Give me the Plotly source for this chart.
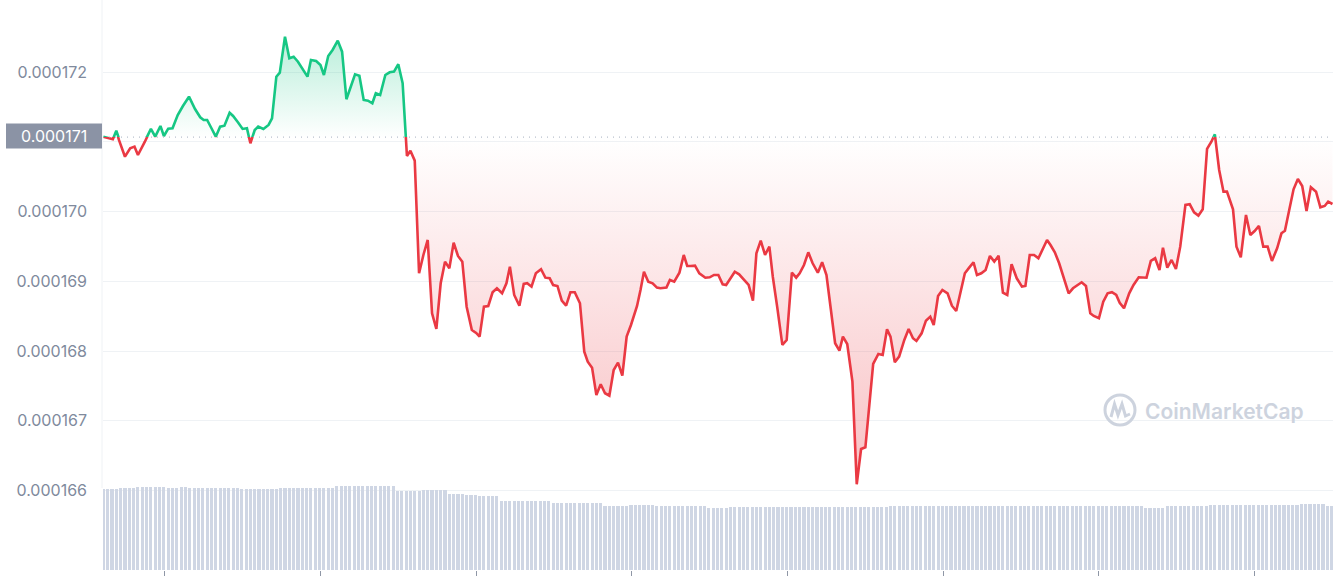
import pandas as pd
import plotly.graph_objects as go

# ---------------- data ----------------
minutes = [
    0, 11, 15, 18, 25, 31, 36, 40, 48, 55, 60, 66, 70, 75, 80, 86, 92, 99, 106, 112,
    116, 120, 125, 130, 135, 140, 146, 150, 156, 161, 166, 170, 175, 179, 185, 191, 195, 200, 204, 210,
    215, 220, 225, 231, 236, 240, 246, 251, 255, 260, 265, 271, 276, 281, 285, 291, 296, 301, 306, 311,
    315, 320, 326, 331, 336, 341, 346, 351, 355, 360, 365, 370, 375, 380, 385, 390, 395, 400, 405, 410,
    415, 420, 426, 431, 435, 440, 445, 450, 455, 461, 466, 470, 475, 481, 486, 490, 495, 500, 506, 511,
    516, 520, 525, 530, 535, 540, 545, 551, 556, 560, 565, 570, 575, 580, 585, 590, 595, 600, 605, 610,
    617, 621, 625, 630, 635, 640, 644, 651, 655, 660, 666, 671, 675, 679, 684, 689, 696, 701, 706, 711,
    716, 720, 725, 730, 735, 741, 746, 751, 755, 760, 765, 770, 774, 779, 785, 790, 796, 801, 805, 810,
    815, 820, 826, 831, 836, 841, 846, 851, 855, 860, 866, 871, 876, 881, 886, 890, 896, 901, 906, 910,
    915, 920, 926, 931, 936, 940, 946, 951, 956, 960, 965, 970, 976, 981, 986, 991, 996, 1001, 1006, 1010,
    1015, 1020, 1025, 1030, 1035, 1040, 1045, 1050, 1056, 1062, 1066, 1071, 1076, 1081, 1086, 1091, 1095, 1100, 1105, 1110,
    1116, 1121, 1126, 1131, 1136, 1141, 1145, 1151, 1156, 1161, 1166, 1171, 1175, 1180, 1186, 1191, 1197, 1202, 1206, 1211,
    1216, 1221, 1225, 1230, 1235, 1240, 1245, 1251, 1256, 1261, 1266, 1271, 1276, 1281, 1285, 1290, 1295, 1299, 1306, 1310,
    1315, 1321, 1326, 1331, 1336, 1341, 1346, 1351, 1357, 1362, 1366, 1371, 1376, 1381, 1386, 1391, 1396, 1402, 1407, 1412,
    1416, 1421,
]

price_micro = [
    171.076, 171.039, 171.162, 171.029, 170.789, 170.910, 170.933, 170.813, 171.004, 171.187,
    171.076, 171.230, 171.086, 171.191, 171.197, 171.387, 171.516, 171.650, 171.473, 171.354,
    171.316, 171.316, 171.197, 171.076, 171.220, 171.234, 171.420, 171.373, 171.277, 171.187,
    171.197, 170.981, 171.172, 171.220, 171.187, 171.244, 171.340, 171.937, 171.994, 172.511,
    172.201, 172.224, 172.152, 172.033, 171.937, 172.176, 172.162, 172.105, 171.961, 172.234,
    172.320, 172.453, 172.296, 171.613, 171.746, 171.971, 171.951, 171.603, 171.593, 171.555,
    171.699, 171.674, 171.961, 172.000, 172.009, 172.115, 171.842, 170.799, 170.875, 170.732,
    169.116, 169.379, 169.594, 168.542, 168.317, 168.973, 169.283, 169.188, 169.555, 169.364,
    169.283, 168.637, 168.303, 168.260, 168.207, 168.637, 168.647, 168.844, 168.901, 168.829,
    168.973, 169.211, 168.805, 168.651, 168.963, 168.973, 168.924, 169.116, 169.174, 169.053,
    169.044, 168.948, 168.934, 168.723, 168.651, 168.844, 168.844, 168.686, 167.991, 167.848,
    167.762, 167.370, 167.524, 167.395, 167.360, 167.729, 167.834, 167.647, 168.207, 168.374,
    168.647, 168.877, 169.139, 168.996, 168.973, 168.910, 168.901, 168.910, 169.020, 168.996,
    169.125, 169.379, 169.221, 169.220, 169.225, 169.116, 169.053, 169.058, 169.092, 169.092,
    168.958, 168.948, 169.053, 169.139, 169.102, 169.010, 168.948, 168.723, 169.403, 169.584,
    169.379, 169.498, 169.063, 168.637, 168.088, 168.159, 169.125, 169.053, 169.116, 169.235,
    169.417, 169.260, 169.125, 169.274, 169.092, 168.604, 168.112, 168.006, 168.207, 168.102,
    167.561, 166.089, 166.595, 166.620, 167.346, 167.815, 167.958, 167.944, 168.313, 168.207,
    167.839, 167.920, 168.159, 168.317, 168.184, 168.145, 168.255, 168.436, 168.494, 168.374,
    168.791, 168.877, 168.829, 168.651, 168.575, 168.829, 169.116, 169.197, 169.274, 169.092,
    169.116, 169.164, 169.364, 169.283, 169.369, 168.838, 168.805, 169.245, 169.044, 168.924,
    168.934, 169.379, 169.379, 169.331, 169.475, 169.594, 169.522, 169.417, 169.260, 169.053,
    168.829, 168.901, 168.938, 168.987, 168.934, 168.542, 168.504, 168.471, 168.709, 168.829,
    168.844, 168.805, 168.694, 168.614, 168.829, 168.948, 169.059, 169.053, 169.053, 169.293,
    169.331, 169.164, 169.483, 169.197, 169.307, 169.178, 169.498, 170.096, 170.106, 169.991,
    169.943, 170.034, 170.900, 171.004, 171.110, 170.598, 170.287, 170.287, 170.034, 169.498,
    169.346, 169.953, 169.666, 169.723, 169.795, 169.498, 169.498, 169.293, 169.475, 169.690,
    169.727, 170.024, 170.321, 170.469, 170.369, 170.010, 170.350, 170.287, 170.063, 170.082,
    170.143, 170.110,
]

volume = [
    8.1, 8.1, 8.1, 8.1, 8.2, 8.2, 8.2, 8.2, 8.3, 8.3, 8.3, 8.3, 8.3, 8.3, 8.3, 8.2, 8.2, 8.2, 8.3, 8.3,
    8.2, 8.2, 8.2, 8.2, 8.2, 8.2, 8.2, 8.2, 8.2, 8.2, 8.2, 8.2, 8.1, 8.1, 8.1, 8.1, 8.1, 8.1, 8.1, 8.1,
    8.1, 8.2, 8.2, 8.2, 8.2, 8.2, 8.2, 8.2, 8.2, 8.2, 8.2, 8.2, 8.2, 8.2, 8.4, 8.4, 8.4, 8.4, 8.4, 8.4,
    8.4, 8.4, 8.4, 8.4, 8.4, 8.4, 8.4, 8.4, 7.95, 7.95, 7.95, 7.95, 7.95, 7.95, 8.05, 8.05, 8.05, 8.05, 8.05, 8.05,
    7.6, 7.6, 7.6, 7.6, 7.5, 7.5, 7.5, 7.4, 7.4, 7.4, 7.4, 7.4, 6.9, 6.9, 6.9, 6.9, 6.9, 6.9, 6.9, 6.9,
    6.9, 6.9, 6.9, 6.9, 6.7, 6.7, 6.7, 6.7, 6.7, 6.7, 6.7, 6.7, 6.7, 6.7, 6.7, 6.7, 6.4, 6.4, 6.4, 6.4,
    6.4, 6.4, 6.5, 6.5, 6.5, 6.5, 6.5, 6.5, 6.4, 6.4, 6.4, 6.4, 6.4, 6.4, 6.4, 6.4, 6.4, 6.4, 6.4, 6.4,
    6.2, 6.2, 6.2, 6.2, 6.2, 6.3, 6.3, 6.3, 6.3, 6.3, 6.3, 6.3, 6.3, 6.3, 6.3, 6.3, 6.3, 6.3, 6.3, 6.3,
    6.3, 6.3, 6.3, 6.3, 6.3, 6.3, 6.3, 6.3, 6.3, 6.3, 6.3, 6.3, 6.3, 6.3, 6.3, 6.3, 6.3, 6.3, 6.3, 6.3,
    6.3, 6.3, 6.4, 6.4, 6.4, 6.4, 6.4, 6.4, 6.4, 6.4, 6.4, 6.4, 6.4, 6.4, 6.4, 6.4, 6.4, 6.4, 6.4, 6.4,
    6.4, 6.4, 6.4, 6.4, 6.4, 6.4, 6.4, 6.4, 6.4, 6.4, 6.4, 6.4, 6.4, 6.4, 6.4, 6.4, 6.4, 6.4, 6.4, 6.4,
    6.4, 6.4, 6.4, 6.4, 6.4, 6.4, 6.4, 6.4, 6.4, 6.4, 6.4, 6.4, 6.4, 6.4, 6.4, 6.4, 6.4, 6.4, 6.4, 6.4,
    6.4, 6.2, 6.2, 6.2, 6.2, 6.2, 6.4, 6.4, 6.4, 6.4, 6.4, 6.4, 6.4, 6.4, 6.4, 6.4, 6.5, 6.5, 6.5, 6.5,
    6.5, 6.5, 6.5, 6.5, 6.5, 6.5, 6.5, 6.5, 6.5, 6.5, 6.5, 6.5, 6.5, 6.5, 6.5, 6.5, 6.5, 6.6, 6.6, 6.6,
    6.6, 6.6, 6.6, 6.4, 6.4,
]

y_tick_micro = [166, 167, 168, 169, 170, 171, 172]
y_tick_text = ["0.000166", "0.000167", "0.000168", "0.000169", "0.000170", "", "0.000172"]
open_price_micro = 171.07
open_label = "0.000171"

# ---------------- derived series ----------------
START = pd.Timestamp("2024-05-20 10:49")
times = START + pd.to_timedelta(minutes, unit="m")
price = [v * 1e-6 for v in price_micro]
base = open_price_micro * 1e-6
tickvals = [v * 1e-6 for v in y_tick_micro]
vol_times = pd.date_range(START, periods=len(volume), freq="5min")

# ---------------- geometry / style ----------------
W, H = 1336, 579
L, R, T, B = 103, 3, 0, 9
PW, PH = W - L - R, H - T - B
Y_LO, Y_HI = 164.859e-6, 173.037e-6
frac = (base - Y_LO) / (Y_HI - Y_LO)


def fx(px):
    return (px - L) / PW


def fy(py):
    return (T + PH - py) / PH


GREEN = "#16c784"
RED = "#ea3943"
GRID = "#eff2f5"
LABEL = "#808a9d"
FONT = "Inter, Roboto, sans-serif"

fig = go.Figure()

# volume bars
fig.add_trace(go.Bar(
    x=vol_times, y=volume, yaxis="y2",
    marker=dict(color="#cfd6e4", line=dict(width=0)),
    width=215000, hoverinfo="skip", showlegend=False,
))

base_series = [base] * len(times)

# green part (above open) – clipped by its own subplot
fig.add_trace(go.Scatter(x=times, y=base_series, yaxis="y3", mode="lines",
                         line=dict(width=0), hoverinfo="skip", showlegend=False))
fig.add_trace(go.Scatter(
    x=times, y=price, yaxis="y3", mode="lines",
    line=dict(color=GREEN, width=2.6), fill="tonexty",
    fillgradient=dict(type="vertical",
                      colorscale=[[0, "rgba(22,199,132,0)"], [1, "rgba(22,199,132,0.3)"]],
                      start=base, stop=max(price)),
    showlegend=False,
))

# red part (below open)
fig.add_trace(go.Scatter(x=times, y=base_series, yaxis="y4", mode="lines",
                         line=dict(width=0), hoverinfo="skip", showlegend=False))
fig.add_trace(go.Scatter(
    x=times, y=price, yaxis="y4", mode="lines",
    line=dict(color=RED, width=2.6), fill="tonexty",
    fillgradient=dict(type="vertical",
                      colorscale=[[0, "rgba(234,57,67,0.32)"], [1, "rgba(234,57,67,0)"]],
                      start=min(price), stop=base),
    showlegend=False,
))

x_range = [START - pd.Timedelta(minutes=0.4), START + pd.Timedelta(minutes=1421.6)]

fig.update_layout(
    width=W, height=H,
    margin=dict(l=L, r=R, t=T, b=B, pad=0),
    paper_bgcolor="white", plot_bgcolor="rgba(0,0,0,0)",
    showlegend=False,
    bargap=0,
    xaxis=dict(
        type="date", range=x_range, domain=[0, 1], anchor="y",
        showgrid=False, zeroline=False, showline=False,
        ticks="outside", ticklen=5, tickwidth=1, tickcolor="#8f97a6",
        tick0="2024-05-20 12:00", dtick=3 * 3600 * 1000,
        showticklabels=False,
    ),
    yaxis=dict(
        range=[Y_LO, Y_HI], domain=[0, 1],
        tickmode="array", tickvals=tickvals, ticktext=y_tick_text,
        showgrid=True, gridcolor=GRID, gridwidth=1,
        zeroline=False, showline=False, ticks="",
        ticklabelstandoff=15,
        tickfont=dict(family=FONT, size=16, color=LABEL),
    ),
    yaxis2=dict(overlaying="y", range=[0, 57], visible=False),
    yaxis3=dict(domain=[frac, 1], range=[base, Y_HI], anchor="x", visible=False),
    yaxis4=dict(domain=[0, frac], range=[Y_LO, base], anchor="x", visible=False),
)

base_py = T + PH * (1 - frac)

shapes = [
    # left light axis line
    dict(type="line", xref="paper", yref="paper", x0=fx(102), x1=fx(102), y0=fy(488), y1=1,
         line=dict(color=GRID, width=1), layer="below"),
    # open price dotted line
    dict(type="line", xref="paper", yref="y", x0=0, x1=1, y0=base, y1=base,
         line=dict(color="#a7b0c0", width=1, dash="1px,5px"), layer="above"),
    # open price label box
    dict(type="rect", xref="paper", yref="paper",
         x0=fx(6), x1=fx(102), y0=fy(base_py + 11.5), y1=fy(base_py - 13.5),
         fillcolor="#8b93a5", line=dict(width=0), layer="above"),
    # watermark logo circle
    dict(type="circle", xref="paper", yref="paper",
         x0=fx(1105), x1=fx(1135), y0=fy(425), y1=fy(395),
         line=dict(color="#cdd3de", width=3), layer="above"),
    # watermark logo wave
    dict(type="path", xref="paper", yref="paper",
         path=(f"M {fx(1111)} {fy(417)} L {fx(1114.5)} {fy(404)} L {fx(1118)} {fy(415)} "
               f"L {fx(1122)} {fy(404)} L {fx(1125.5)} {fy(416)} L {fx(1130)} {fy(414)}"),
         line=dict(color="#cdd3de", width=3), layer="above"),
]
fig.update_layout(shapes=shapes)

fig.add_annotation(
    x=fx(54), y=fy(base_py - 1), xref="paper", yref="paper",
    text=open_label, showarrow=False, xanchor="center", yanchor="middle",
    font=dict(family=FONT, size=16, color="white"),
)
fig.add_annotation(
    x=fx(1224), y=fy(411), xref="paper", yref="paper",
    text="CoinMarketCap", showarrow=False, xanchor="center", yanchor="middle",
    font=dict(family=FONT, size=21, color="#cdd3de", weight=600),
)

fig.write_html(
    "out.html",
    config={"displayModeBar": False},
    post_script="document.body.style.margin='0px'; document.body.style.overflow='hidden';",
)
